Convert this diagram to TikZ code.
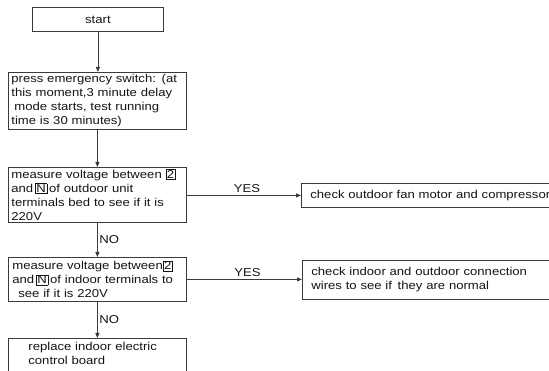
\documentclass[tikz,border=0pt]{standalone}
\usepackage{fontspec}
\setmainfont[FakeStretch=1.15]{Liberation Sans}
\usepackage{tikz}
\usetikzlibrary{arrows.meta, positioning, calc}
\definecolor{LineGray}{HTML}{3A3A3A}
\definecolor{InkGray}{HTML}{141414}

% small framed terminal marks (2, N)
\newcommand{\termbox}[1]{{\setlength{\fboxsep}{0.8pt}\setlength{\fboxrule}{0.5pt}\fbox{#1}}}

\begin{document}
\begin{tikzpicture}[x=1pt, y=-1pt, >={Triangle[length=5pt, width=4pt]},
    flowbox/.style={draw=LineGray, line width=0.8pt, text=InkGray, align=left,
        anchor=north west, inner xsep=3pt, inner ysep=0pt, text width=172pt,
        font=\fontsize{11.4}{14}\selectfont},
    sidebox/.style={flowbox, inner xsep=9pt, text width=242pt},
    flowline/.style={->, draw=LineGray, line width=0.8pt},
    tag/.style={font=\fontsize{11.4}{14}\selectfont, text=InkGray, inner sep=1.5pt}]
    \useasboundingbox (0,0) rectangle (549,371);

    % 1. Start box
    \node[flowbox, align=center, text width=125pt, minimum height=24pt] (start) at (32,7) {start};

    % 2. Main column of checks
    \node[flowbox, minimum height=57pt] (press) at (8,72)
        {press emergency switch: (at\\this moment,3 minute delay\\\hspace*{3pt}mode starts, test running\\time is 30 minutes)};
    \node[flowbox, minimum height=55pt] (outdoor) at (8,167)
        {measure voltage between \termbox{2}\\and\,\termbox{N}\,of outdoor unit\\terminals bed to see if it is\\220V};
    \node[flowbox, minimum height=44pt] (indoor) at (8,257)
        {\hspace*{1pt}measure voltage between\termbox{2}\\\hspace*{1pt}and\,\termbox{N}\,of indoor terminals to\\\hspace*{7pt}see if it is 220V};
    \node[flowbox, inner ysep=4pt] (board) at (8,338)
        {\hspace*{17pt}replace indoor electric\\\hspace*{17pt}control board\\[6pt]\mbox{}};

    % 3. Side results
    \node[sidebox, minimum height=24pt] (motor) at (301,183)
        {check outdoor fan motor and compressor};
    \node[sidebox, minimum height=39pt] (wires) at (302,260)
        {check indoor and outdoor connection\\wires to see if\, they are normal};

    % 4. Connectors
    \draw[flowline] (start.south) -- (start.south |- press.north);
    \draw[flowline] (press.south) -- (outdoor.north);
    \draw[flowline] (outdoor.east |- motor.west) -- (motor.west)
        node[tag, above, midway, xshift=3pt, yshift=1pt] (yes1) {YES};
    \draw[flowline] (outdoor.south) -- (indoor.north)
        node[tag, right, midway] (no1) {NO};
    \draw[flowline] (indoor.east) -- (indoor.east -| wires.west)
        node[tag, above, midway, xshift=3pt, yshift=1pt] (yes2) {YES};
    \draw[flowline] (indoor.south) -- (board.north)
        node[tag, right, midway] (no2) {NO};
\end{tikzpicture}
\end{document}
